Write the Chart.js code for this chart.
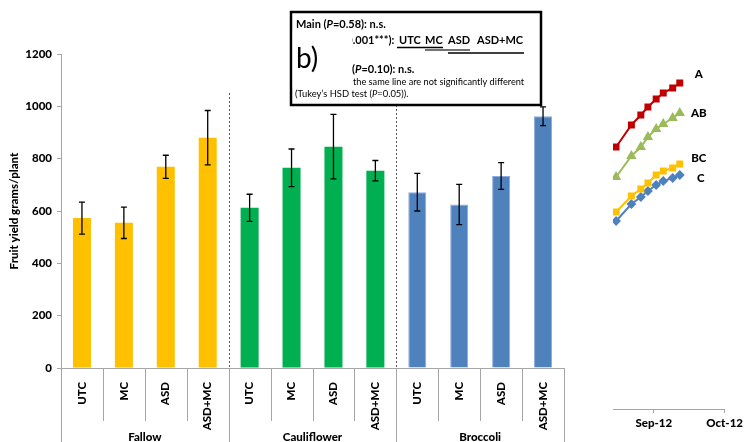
<!DOCTYPE html>
<html>
<head>
<meta charset="utf-8">
<script src="https://cdn.jsdelivr.net/npm/chart.js@4.4.0/dist/chart.umd.min.js"></script>
<style>
body{margin:0;background:#fff;width:746px;height:442px;overflow:hidden;position:relative}
#grafico{position:absolute;left:0;top:0}
#grafico2{position:absolute;left:590px;top:0}
</style>
</head>
<body>
<canvas id="grafico" width="746" height="442"></canvas>
<canvas id="grafico2" width="156" height="442"></canvas>
<script>
// datos del grafico de barras
let tratamientos=['UTC','MC','ASD','ASD+MC','UTC','MC','ASD','ASD+MC','UTC','MC','ASD','ASD+MC']
let grupos=['Fallow','Cauliflower','Broccoli']
let rendimiento=[573,555,769,880, 612,765,846,754, 672,625,734,962]
let errores=[61,60,44,104, 52,72,123,39, 72,77,51,36]
let yTicks=[0,200,400,600,800,1000,1200]

// datos del panel de la derecha (recortado)
let dias=[-16,-9.5,-5.5,-2.5,1,4,8,11]
let serieA=[262,284,294,302,310,316,321,326]
let serieAB=[232,253,262,272,280,285,291,296]
let serieBC=[197,213,220,226,234,238,241,245]
let serieC=[188,205,212,218,224,228,231,234]
let letras=['A','AB','BC','C']
let fechas=['Sep-12','Oct-12']
let fechasDias=[0,30]

let colorGrupo=['#FFC000','#00B050','#4F81BD']
let gris='#A6A6A6'
let fuenteEje={family:'Lato',weight:900,size:11.5}
Chart.defaults.font.family='Lato'
Chart.defaults.color='#000'
Chart.defaults.animation=false

function textoMixto(ctx,partes,x,y,base,alinear){
    // partes: [texto, cursiva]
    let ancho=0
    for(let p of partes){
        ctx.font=(p[1]?'italic ':'')+base
        ancho+=ctx.measureText(p[0]).width
    }
    let xi=alinear=='right'?x-ancho:x
    for(let p of partes){
        ctx.font=(p[1]?'italic ':'')+base
        ctx.fillText(p[0],xi,y)
        xi+=ctx.measureText(p[0]).width
    }
}

const extras={
    id:'extras',
    afterDatasetsDraw(chart){
        let ctx=chart.ctx
        let meta=chart.getDatasetMeta(0)
        let ys=chart.scales.y
        let area=chart.chartArea
        ctx.save()
        // barras de error
        ctx.strokeStyle='#000'
        ctx.lineWidth=1.3
        for(let j=0;j<rendimiento.length;j++){
            let x=meta.data[j].x
            let y1=ys.getPixelForValue(rendimiento[j]+errores[j])
            let y2=ys.getPixelForValue(rendimiento[j]-errores[j])
            ctx.beginPath()
            ctx.moveTo(x,y1);ctx.lineTo(x,y2)
            ctx.moveTo(x-3,y1);ctx.lineTo(x+3,y1)
            ctx.moveTo(x-3,y2);ctx.lineTo(x+3,y2)
            ctx.stroke()
        }
        // separadores punteados entre grupos
        let ancho=(area.right-area.left)/tratamientos.length
        ctx.strokeStyle='#555'
        ctx.lineWidth=1
        ctx.setLineDash([2,2])
        for(let g=1;g<grupos.length;g++){
            let x=Math.round(area.left+g*4*ancho)+0.5
            ctx.beginPath()
            ctx.moveTo(x,93);ctx.lineTo(x,area.bottom)
            ctx.stroke()
        }
        ctx.setLineDash([])
        // lineas del eje de categorias
        ctx.strokeStyle=gris
        for(let j=0;j<=tratamientos.length;j++){
            let x=Math.round(area.left+j*ancho)+0.5
            ctx.beginPath()
            ctx.moveTo(x,area.bottom)
            ctx.lineTo(x,j%4==0?442:421)
            ctx.stroke()
        }
        ctx.fillStyle='#000'
        ctx.font='900 11.5px Lato'
        ctx.textAlign='center'
        ctx.textBaseline='middle'
        for(let g=0;g<grupos.length;g++){
            ctx.fillText(grupos[g],area.left+(g*4+2)*ancho,437)
        }
        ctx.restore()
    },
    afterDraw(chart){
        let ctx=chart.ctx
        ctx.save()
        // cuadro de estadistica
        ctx.fillStyle='#fff'
        ctx.fillRect(291,12,250,93)
        ctx.strokeStyle='#000'
        ctx.lineWidth=2.5
        ctx.strokeRect(291,12,250,93)
        ctx.beginPath()
        ctx.rect(292.5,13.5,247,90)
        ctx.clip()
        ctx.fillStyle='#000'
        ctx.textBaseline='middle'
        ctx.textAlign='left'
        let b='bold 11px Lato'
        textoMixto(ctx,[['Main (',false],['P',true],['=0.58): n.s.',false]],296,24,b)
        textoMixto(ctx,[['Crop (',false],['P',true],['<0.001***): ',false]],397,40,b,'right')
        ctx.font=b
        ctx.fillText('UTC',399,40)
        ctx.fillText('MC',425,40)
        ctx.fillText('ASD',448,40)
        ctx.fillText('ASD+MC',477,40)
        ctx.lineWidth=1.5
        ctx.strokeStyle='#000'
        ctx.beginPath();ctx.moveTo(397,47.5);ctx.lineTo(443,47.5);ctx.stroke()
        ctx.strokeStyle='#444'
        ctx.beginPath();ctx.moveTo(425,50);ctx.lineTo(470,50);ctx.stroke()
        ctx.strokeStyle='#000'
        ctx.beginPath();ctx.moveTo(448,53);ctx.lineTo(524,53);ctx.stroke()
        textoMixto(ctx,[['Interaction ',false]],352,69,b,'right')
        textoMixto(ctx,[['(',false],['P',true],['=0.10): n.s.',false]],352,69,b)
        textoMixto(ctx,[['Treatments on ',false]],353,82,'9.2px Lato','right')
        ctx.font='9.2px Lato'
        ctx.fillText('the same line are not significantly different',353,82)
        textoMixto(ctx,[['(Tukey\u2019s HSD test (',false],['P',true],['=0.05)).',false]],295,94,'9.4px Lato')
        // etiqueta b) tapando parte del texto
        ctx.fillStyle='#fff'
        ctx.fillRect(292.5,31,59.5,56)
        ctx.fillStyle='#000'
        ctx.font='28px Lato'
        ctx.textBaseline='alphabetic'
        ctx.fillText('b)',296,68)
        ctx.restore()
    }
}

new Chart(document.getElementById('grafico'),{
    type:'bar',
    data:{
        labels:tratamientos,
        datasets:[{
            data:rendimiento,
            backgroundColor:tratamientos.map((t,j)=>colorGrupo[Math.floor(j/4)]),
            borderColor:tratamientos.map((t,j)=>j>=8?'#8EAADB':colorGrupo[Math.floor(j/4)]),
            borderWidth:tratamientos.map((t,j)=>j>=8?1:0),
            barPercentage:0.43,
            categoryPercentage:1
        }]
    },
    options:{
        responsive:false,
        layout:{padding:{top:54,right:182,left:0,bottom:0}},
        plugins:{legend:{display:false},tooltip:{enabled:false}},
        scales:{
            x:{
                grid:{display:false},
                border:{display:true,color:gris},
                ticks:{font:fuenteEje,color:'#000',minRotation:90,maxRotation:90,padding:6,autoSkip:false},
                afterFit(s){s.height=74}
            },
            y:{
                min:0,max:1200,
                grid:{drawOnChartArea:false,tickLength:4,color:gris},
                border:{display:true,color:gris},
                ticks:{font:fuenteEje,color:'#000',padding:5,callback:(v)=>String(v)},
                afterBuildTicks(s){s.ticks=yTicks.map(v=>({value:v}))},
                title:{display:true,text:'Fruit yield grams/plant',color:'#000',font:fuenteEje,padding:{top:7,bottom:0}},
                afterFit(s){s.width=61}
            }
        }
    },
    plugins:[extras]
})

const etiquetas={
    id:'etiquetas',
    afterDatasetsDraw(chart){
        let ctx=chart.ctx
        let desp=[[19,-9],[19,0],[19,-6],[21,3]]
        ctx.save()
        ctx.fillStyle='#000'
        ctx.font='900 11.5px Lato'
        ctx.textAlign='center'
        ctx.textBaseline='middle'
        for(let k=0;k<letras.length;k++){
            let pts=chart.getDatasetMeta(k).data
            let p=pts[pts.length-1]
            ctx.fillText(letras[k],p.x+desp[k][0],p.y+desp[k][1])
        }
        ctx.restore()
    }
}

function puntos(serie){return dias.map((d,j)=>({x:d,y:serie[j]}))}

new Chart(document.getElementById('grafico2'),{
    type:'line',
    data:{
        datasets:[
            {data:puntos(serieA),borderColor:'#C00000',backgroundColor:'#C00000',pointStyle:'rect',pointRadius:3.5,borderWidth:2},
            {data:puntos(serieAB),borderColor:'#9BBB59',backgroundColor:'#9BBB59',pointStyle:'triangle',pointRadius:4,borderWidth:2},
            {data:puntos(serieBC),borderColor:'#FFC000',backgroundColor:'#FFC000',pointStyle:'rect',pointRadius:3.5,borderWidth:2},
            {data:puntos(serieC),borderColor:'#4F81BD',backgroundColor:'#4F81BD',pointStyle:'rectRot',pointRadius:3.5,borderWidth:2}
        ]
    },
    options:{
        responsive:false,
        layout:{padding:{top:9,right:18,left:23,bottom:0}},
        plugins:{legend:{display:false},tooltip:{enabled:false}},
        scales:{
            x:{
                type:'linear',min:-17.3,max:30,
                grid:{drawOnChartArea:false,tickLength:4,color:gris},
                border:{display:true,color:gris},
                afterBuildTicks(s){s.ticks=fechasDias.map(v=>({value:v}))},
                ticks:{font:fuenteEje,color:'#000',padding:3,maxRotation:0,autoSkip:false,
                    callback:(v)=>fechas[fechasDias.indexOf(v)]},
                afterFit(s){s.height=33}
            },
            y:{display:false,min:0,max:400}
        }
    },
    plugins:[etiquetas]
})
</script>
</body>
</html>
